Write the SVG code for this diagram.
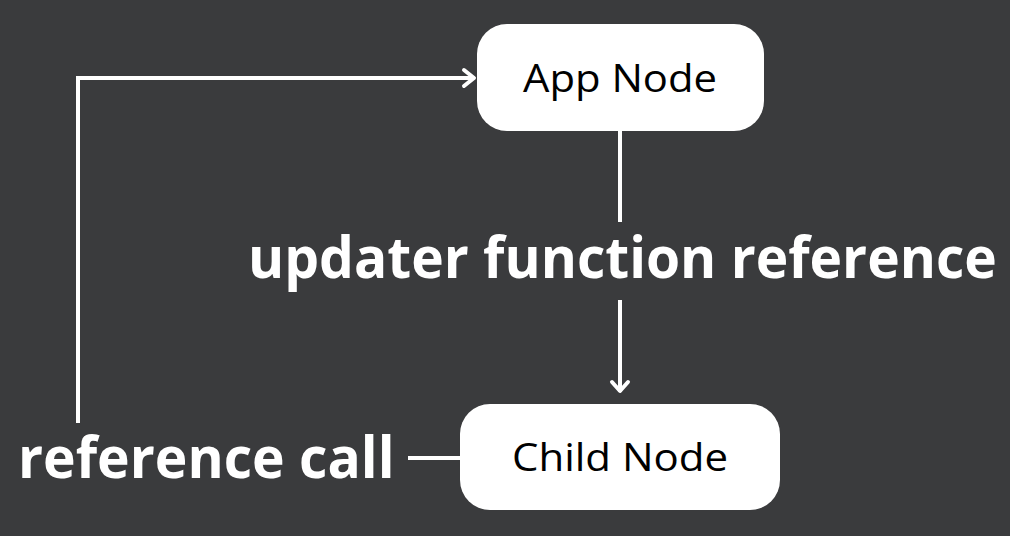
<svg xmlns="http://www.w3.org/2000/svg" width="1010" height="536" viewBox="0 0 1010 536">
<style>
.node{fill:#ffffff}
.ntext{font-family:"Open Sans","Liberation Sans",sans-serif;font-size:38px;fill:#000000}
.label{font-family:"Open Sans","Liberation Sans",sans-serif;font-weight:bold;font-size:57px;fill:#ffffff}
.conn{stroke:#ffffff;stroke-width:4;fill:none}
.head{stroke:#ffffff;stroke-width:4;fill:none;stroke-linecap:round;stroke-linejoin:round}
</style>
<rect width="1010" height="536" fill="#3a3b3d"/>
<g id="connectors">
<polyline class="conn" points="78,423 78,78 474,78"/>
<polyline class="head" points="464,70 474,78 464,86"/>
<line class="conn" x1="620" y1="131" x2="620" y2="222"/>
<line class="conn" x1="620" y1="300" x2="620" y2="392"/>
<polyline class="head" points="612,382 620,391 628,382"/>
<line class="conn" x1="408" y1="458" x2="460" y2="458"/>
</g>
<g id="app-node">
<rect class="node" x="477" y="24" width="287" height="107" rx="30"/>
<text class="ntext" x="523" y="92" textLength="194" lengthAdjust="spacingAndGlyphs">App Node</text>
</g>
<g id="child-node">
<rect class="node" x="460" y="404" width="320" height="106" rx="30"/>
<text class="ntext" x="512" y="471" textLength="216" lengthAdjust="spacingAndGlyphs">Child Node</text>
</g>
<g id="label-updater">
<text class="label" transform="translate(248,278) scale(0.85,1)" x="0" y="0" textLength="881" lengthAdjust="spacingAndGlyphs">updater function reference</text>
</g>
<g id="label-call">
<text class="label" transform="translate(18,478) scale(0.85,1)" x="0" y="0" textLength="443" lengthAdjust="spacingAndGlyphs">reference call</text>
</g>
</svg>
